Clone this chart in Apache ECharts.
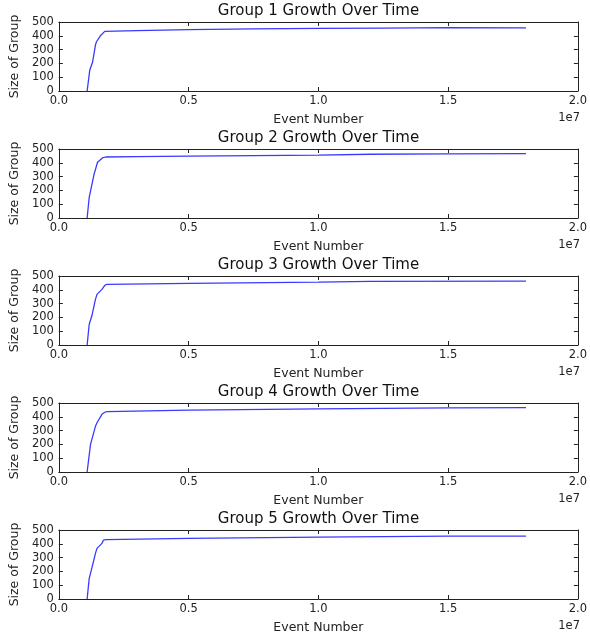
<!DOCTYPE html>
<html>
<head>
<meta charset="utf-8">
<script src="https://cdn.jsdelivr.net/npm/echarts@6/dist/echarts.min.js"></script>
<style>
html,body{margin:0;padding:0;background:#fff;}
#chart{width:590px;height:638px;}
</style>
</head>
<body>
<div id="chart"></div>
<script>
var groupTitles = ["Group 1 Growth Over Time","Group 2 Growth Over Time","Group 3 Growth Over Time","Group 4 Growth Over Time","Group 5 Growth Over Time"];
var xTickLabels = ["0.0","0.5","1.0","1.5","2.0"];
var yTickValues = [0,100,200,300,400,500];

var events1 = [1.09e6,1.19e6,1.30e6,1.41e6,1.45e6,1.60e6,1.77e6,3e6,5e6,7.5e6,1e7,1.25e7,1.5e7,1.8e7];
var sizes1  = [0,150,210,333,357,400,432,438,445,450,454,456,459,458];
var events2 = [1.09e6,1.17e6,1.36e6,1.49e6,1.68e6,1.8e6,3e6,5e6,7.5e6,1e7,1.2e7,1.5e7,1.8e7];
var sizes2  = [0,150,319,404,435,442,445,448,452,456,462,465,466];
var events3 = [1.09e6,1.17e6,1.27e6,1.41e6,1.47e6,1.66e6,1.77e6,1.85e6,5e6,1e7,1.2e7,1.8e7];
var sizes3  = [0,150,210,331,367,403,432,440,446,455,461,463];
var events4 = [1.09e6,1.22e6,1.41e6,1.47e6,1.66e6,1.77e6,1.85e6,5e6,1e7,1.5e7,1.8e7];
var sizes4  = [0,200,331,357,418,433,438,448,458,465,466];
var events5 = [1.09e6,1.17e6,1.30e6,1.41e6,1.47e6,1.66e6,1.72e6,1.8e6,5e6,1e7,1.5e7,1.8e7];
var sizes5  = [0,150,246,331,367,403,427,430,440,448,455,456];

var eventsAll = [events1,events2,events3,events4,events5];
var sizesAll = [sizes1,sizes2,sizes3,sizes4,sizes5];

var FONT = "DejaVu Sans";
var LEFT = 58, RIGHT = 11, TOP0 = 22, H = 69, STEP = 127;
var PLOT_W = 590 - LEFT - RIGHT;

var grids = [], xAxes = [], yAxes = [], series = [], titles = [], graphics = [];
for (var k = 0; k < 5; k++) {
  var gTop = TOP0 + STEP * k;
  grids.push({left: LEFT, width: PLOT_W, top: gTop, height: H, show: false, containLabel: false});
  var lineStyle = {color: '#222', width: 1};
  xAxes.push({
    type: 'value', gridIndex: k, min: 0, max: 2e7, interval: 5e6, position: 'bottom',
    axisLine: {show: true, onZero: false, lineStyle: lineStyle},
    axisTick: {show: true, inside: true, length: 4, lineStyle: lineStyle},
    axisLabel: {show: true, margin: 4, color: '#222', fontFamily: FONT, fontSize: 11.5,
      formatter: function (v) { return xTickLabels[Math.round(v / 5e6)]; }},
    splitLine: {show: false},
    name: 'Event Number', nameLocation: 'middle', nameGap: 22,
    nameTextStyle: {color: '#222', fontFamily: FONT, fontSize: 12.5}
  });
  xAxes.push({
    type: 'value', gridIndex: k, min: 0, max: 2e7, interval: 5e6, position: 'top',
    axisLine: {show: true, onZero: false, lineStyle: lineStyle},
    axisTick: {show: true, inside: true, length: 4, lineStyle: lineStyle},
    axisLabel: {show: false}, splitLine: {show: false}
  });
  yAxes.push({
    type: 'value', gridIndex: k, min: 0, max: 500, interval: 100, position: 'left',
    axisLine: {show: true, onZero: false, lineStyle: lineStyle},
    axisTick: {show: true, inside: true, length: 4, lineStyle: lineStyle},
    axisLabel: {show: true, margin: 5, color: '#222', fontFamily: FONT, fontSize: 11.5,
      formatter: function (v) { return yTickValues.indexOf(v) >= 0 ? String(v) : ''; }},
    splitLine: {show: false},
    name: 'Size of Group', nameLocation: 'middle', nameGap: 33, nameRotate: 90,
    nameTextStyle: {color: '#222', fontFamily: FONT, fontSize: 12.5}
  });
  yAxes.push({
    type: 'value', gridIndex: k, min: 0, max: 500, interval: 100, position: 'right',
    axisLine: {show: true, onZero: false, lineStyle: lineStyle},
    axisTick: {show: true, inside: true, length: 4, lineStyle: lineStyle},
    axisLabel: {show: false}, splitLine: {show: false}
  });
  var data = eventsAll[k].map(function (x, i) { return [x, sizesAll[k][i]]; });
  series.push({
    type: 'line', xAxisIndex: 2 * k, yAxisIndex: 2 * k, data: data,
    showSymbol: false, symbol: 'none', animation: false,
    lineStyle: {color: '#3a3aff', width: 1.3}
  });
  titles.push({
    text: groupTitles[k], left: LEFT + PLOT_W / 2, top: gTop - 18, textAlign: 'center',
    padding: 0,
    textStyle: {color: '#111', fontFamily: FONT, fontSize: 15, fontWeight: 'normal'}
  });
  graphics.push({
    type: 'text', right: 10, top: gTop + H + 21,
    style: {text: '1e7', fill: '#222', font: '11.5px "DejaVu Sans"'}
  });
}

var chart = echarts.init(document.getElementById('chart'), null, {renderer: 'canvas'});
chart.setOption({
  animation: false,
  backgroundColor: '#fff',
  title: titles,
  grid: grids,
  xAxis: xAxes,
  yAxis: yAxes,
  series: series,
  graphic: graphics
});
</script>
</body>
</html>
